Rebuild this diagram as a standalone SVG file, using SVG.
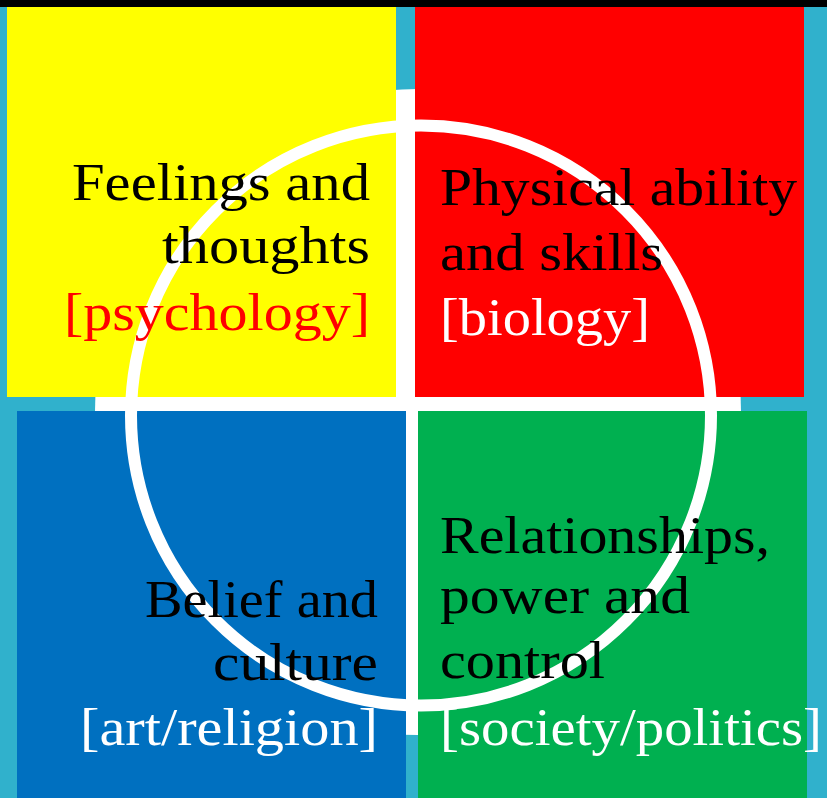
<svg xmlns="http://www.w3.org/2000/svg" width="827" height="798" viewBox="0 0 827 798">
<style>
.t{font-family:"Liberation Serif","Times New Roman",serif;font-size:52px;}
.k{fill:#000}
.w{fill:#fff}
.r{fill:#f00}
.e{text-anchor:end}
</style>
<rect x="0" y="0" width="827" height="798" fill="#30B1CC"/>
<rect x="0" y="0" width="827" height="7" fill="#000"/>
<circle cx="418" cy="412" r="323" fill="#fff"/>
<g id="psychology">
<rect x="7" y="7" width="389" height="390" fill="#FFFF00"/>
</g>
<g id="biology">
<rect x="415" y="7" width="389" height="390" fill="#FF0000"/>
</g>
<g id="culture">
<rect x="17" y="411" width="389" height="387" fill="#0070C0"/>
</g>
<g id="society">
<rect x="418" y="411" width="389" height="387" fill="#00B050"/>
</g>
<g id="ring">
<circle cx="421" cy="415.5" r="290" fill="none" stroke="#fff" stroke-width="12"/>
</g>
<g id="labels">
<text class="t k e" x="370" y="200" textLength="298" lengthAdjust="spacingAndGlyphs">Feelings and</text>
<text class="t k e" x="370" y="263" textLength="208" lengthAdjust="spacingAndGlyphs">thoughts</text>
<text class="t r e" x="370" y="330" textLength="306" lengthAdjust="spacingAndGlyphs">[psychology]</text>
<text class="t k" x="440" y="205" textLength="357" lengthAdjust="spacingAndGlyphs">Physical ability</text>
<text class="t k" x="440" y="270" textLength="223" lengthAdjust="spacingAndGlyphs">and skills</text>
<text class="t w" x="440" y="335" textLength="210" lengthAdjust="spacingAndGlyphs">[biology]</text>
<text class="t k" x="440" y="553" textLength="330" lengthAdjust="spacingAndGlyphs">Relationships,</text>
<text class="t k" x="440" y="613" textLength="250" lengthAdjust="spacingAndGlyphs">power and</text>
<text class="t k" x="440" y="678" textLength="165" lengthAdjust="spacingAndGlyphs">control</text>
<text class="t w" x="440" y="745" textLength="382" lengthAdjust="spacingAndGlyphs">[society/politics]</text>
<text class="t k e" x="378" y="617" textLength="233" lengthAdjust="spacingAndGlyphs">Belief and</text>
<text class="t k e" x="378" y="680" textLength="165" lengthAdjust="spacingAndGlyphs">culture</text>
<text class="t w e" x="378" y="745" textLength="298" lengthAdjust="spacingAndGlyphs">[art/religion]</text>
</g>
</svg>
